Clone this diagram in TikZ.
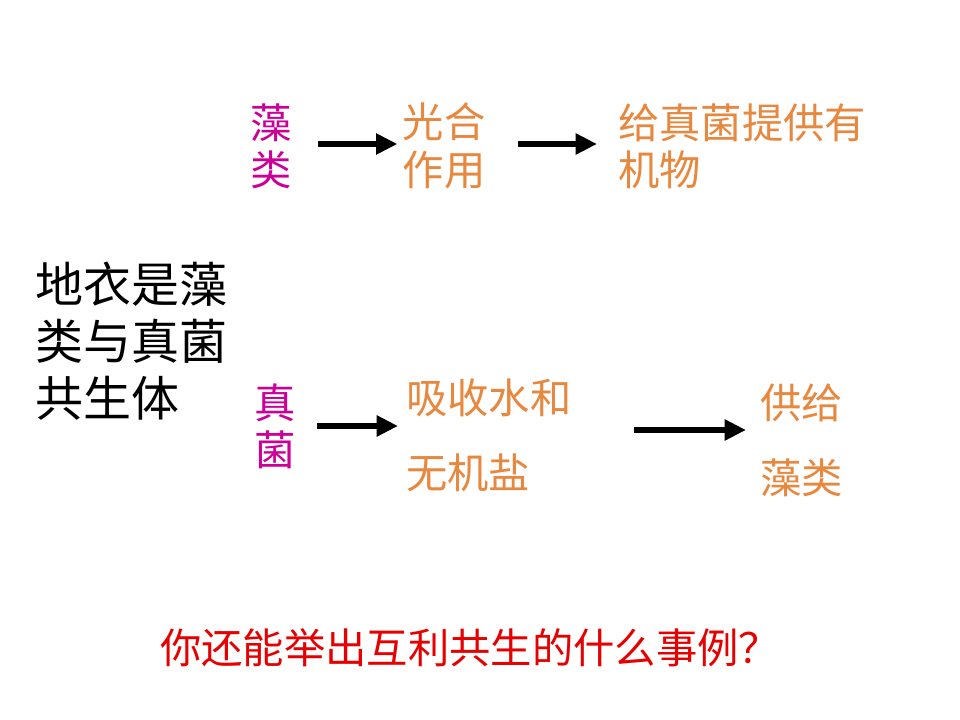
\documentclass[tikz,border=0pt]{standalone}
\usepackage{fontspec}
\newfontfamily\cjk{Noto Sans CJK SC}
\usetikzlibrary{arrows.meta, positioning}
\definecolor{partnercol}{RGB}{204,0,153}
\definecolor{processcol}{RGB}{232,135,62}
\definecolor{askcol}{RGB}{230,0,0}
\tikzset{>={Triangle[length=16pt,width=15pt]}}

\begin{document}
\begin{tikzpicture}[x=0.75pt,y=-0.75pt,inner sep=0pt,
    partner/.style={text=partnercol,align=center,font=\cjk\fontsize{31pt}{35.5pt}\selectfont},
    process/.style={text=processcol,align=left,font=\cjk\fontsize{31pt}{35.5pt}\selectfont},
    wide/.style={font=\cjk\fontsize{31pt}{56.5pt}\selectfont},
    flow/.style={->,line width=4.5pt}]
    \useasboundingbox[fill=white] (0,0) rectangle (960,720);
    % left caption
    \node[anchor=west,align=left,font=\cjk\fontsize{36pt}{42.75pt}\selectfont] (lichen) at (35,341) {地衣是藻\\类与真菌\\共生体};
    % upper row: algae
    \node[partner] (alga) at (271,146) {藻\\类};
    \node[process] (photo) at (444,146) {光合\\作用};
    \node[process,anchor=west] (organic) at (618,146) {给真菌提供有\\机物};
    % lower row: fungus
    \node[partner] (fungus) at (275,426) {真\\菌};
    \node[process,wide,anchor=west] (absorb) at (406,435) {吸收水和\\无机盐};
    \node[process,wide,anchor=west] (supply) at (760,440) {供给\\藻类};
    % question
    \node[text=askcol,font=\cjk\fontsize{31pt}{36pt}\selectfont] (ask) at (470,648) {你还能举出互利共生的什么事例？};
    \draw[flow,shorten <=19.5pt,shorten >=3.75pt] ([yshift=1.5pt]alga.east) -- ([yshift=1.5pt]photo.west);
    \draw[flow,shorten <=24pt,shorten >=15.75pt] ([yshift=1.5pt]photo.east) -- ([yshift=1.5pt]organic.west);
    \draw[flow,shorten <=16pt,shorten >=6pt] (fungus.east) -- ([yshift=6.75pt]absorb.west);
    \draw[flow,shorten <=46.5pt,shorten >=10.5pt] ([yshift=3.75pt]absorb.east) -- ([yshift=7.5pt]supply.west);
\end{tikzpicture}
\end{document}
